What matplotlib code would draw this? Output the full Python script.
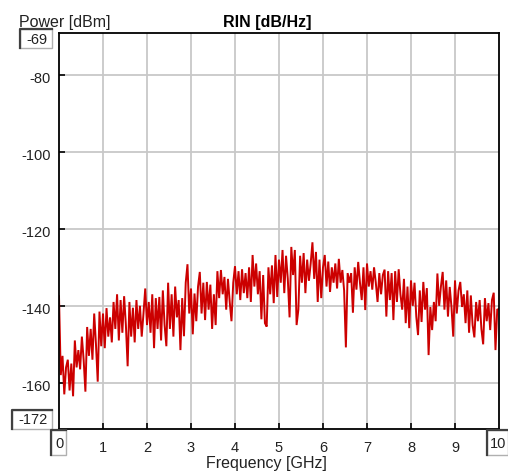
import numpy as np
import matplotlib
matplotlib.use("Agg")
import matplotlib.pyplot as plt
import matplotlib.transforms as mtransforms
from matplotlib.patches import Rectangle
from matplotlib.lines import Line2D

plt.rcParams['font.family'] = ['Liberation Sans', 'DejaVu Sans']
plt.rcParams['axes.unicode_minus'] = False

# frequency span of the sweep (GHz)
f_start = 0.0
f_stop = 10.0

# RIN trace, one value every 0.04 GHz
rin = [
    -137.5, -158, -153, -163, -156,
    -154, -162, -155, -163.5, -149,
    -156, -151.5, -156.5, -148, -154,
    -162.3, -145.5, -153, -146, -154,
    -142, -150, -159.7, -141.5, -150.5,
    -142, -151, -140.6, -148, -143,
    -149.5, -139, -146, -137, -149,
    -138.5, -147, -137.5, -145, -155.7,
    -139, -148, -140.5, -149.5, -138.5,
    -146, -140, -148, -142, -135.5,
    -145, -139, -147, -137, -151,
    -138, -146, -137.7, -149, -136,
    -145, -150.5, -134, -146, -137,
    -148, -135, -143, -138.5, -151.5,
    -138, -147.9, -134, -129.2, -142,
    -135.5, -147.4, -136.8, -144, -135,
    -131.2, -142, -134, -143.7, -133.8,
    -141, -134.5, -146, -137, -145,
    -131, -138, -130.7, -137, -132.5,
    -141, -133, -139, -144, -134,
    -129.7, -137, -131, -138.5, -130.5,
    -136.7, -131.5, -138, -130, -139,
    -126.8, -135, -129, -137, -131,
    -143.5, -132, -144.5, -145.4, -130,
    -137, -129.5, -139.3, -126.8, -137.7,
    -128, -134, -125.5, -136.7, -127,
    -133, -143, -124.7, -132, -125.5,
    -145, -141, -127, -134, -126.3,
    -136.7, -128, -133.5, -129, -123.5,
    -133, -126, -139, -128, -138,
    -130, -126.8, -135, -128.5, -136.4,
    -130, -134, -129, -135.5, -127.8,
    -134, -130.7, -136, -150.8, -131.5,
    -134, -131.5, -141.8, -130, -135.8,
    -128.6, -134, -138.5, -130, -141.1,
    -129, -135, -131, -135.8, -130,
    -134, -139, -131.5, -137, -132,
    -130.6, -142.8, -131, -138.5, -131.5,
    -143.7, -131, -139, -130.5, -137,
    -141, -133, -144.5, -135, -145.8,
    -133.4, -140, -134, -142.8, -147.6,
    -136, -144.2, -133.8, -141, -135.4,
    -152.8, -140.3, -146.3, -139, -144,
    -131.6, -140, -135, -131.2, -141,
    -133.4, -142.8, -135.1, -140.3, -148,
    -133.4, -142, -136, -133.8, -140.3,
    -137, -144.5, -136, -147, -137.3,
    -145, -148.2, -139, -144, -138.5,
    -146, -150, -138, -144, -139.3,
    -146.3, -138.5, -136.6, -151.5, -141,
    -140.8,
]
freq = np.linspace(f_start, f_stop, len(rin))

y_min, y_max = -172, -69
y_ticks = [-160, -140, -120, -100, -80]
x_ticks = [1, 2, 3, 4, 5, 6, 7, 8, 9]

W, H = 508, 475
fs = 11.5      # captions
fs_tick = 10.5  # numbers

fig = plt.figure(figsize=(W / 100, H / 100), dpi=100)
ax = fig.add_axes([59 / W, 46 / H, 440 / W, 396.5 / H])

ax.plot(freq, rin, color='#cc0000', lw=1.4, solid_joinstyle='miter')

ax.set_xlim(f_start, f_stop)
ax.set_ylim(y_min, y_max)
ax.set_xticks(x_ticks)
ax.set_yticks(y_ticks)
ax.grid(True, color='#c8c8c8', lw=1.3)
ax.set_axisbelow(True)
ax.tick_params(direction='in', length=4, width=1.2, colors='black',
               labelcolor='#222222', labelsize=fs_tick)
ax.tick_params(axis='y', pad=6)
ax.tick_params(axis='x', pad=9)
for s in ax.spines.values():
    s.set_linewidth(1.3)

# labels sit a little low on the original screen
shift = mtransforms.ScaledTranslation(0, -3 / 100, fig.dpi_scale_trans)
for lab in ax.get_yticklabels():
    lab.set_transform(lab.get_transform() + shift)


def px_box(x0, y0, x1, y1, txt):
    # little edit box, pixel coords from the top-left corner
    fx0, fx1 = x0 / W, x1 / W
    fy0, fy1 = 1 - y1 / H, 1 - y0 / H
    fig.patches.append(Rectangle((fx0, fy0), fx1 - fx0, fy1 - fy0,
                                 transform=fig.transFigure, fc='white',
                                 ec='#b0b0b0', lw=1))
    fig.lines.append(Line2D([fx0, fx0, fx1], [fy0, fy1, fy1],
                            transform=fig.transFigure, color='#404040', lw=1.6))
    fig.text((x0 + x1) / 2 / W + 1 / W, 1 - (y0 + y1) / 2 / H - 1 / H, txt,
             ha='center', va='center', fontsize=fs_tick, color='#222222')


px_box(20, 29, 52, 48, '-69')
px_box(12, 410, 52, 429, '-172')
px_box(51, 430, 66, 455, '0')
px_box(487, 430, 508, 455, '10')

fig.text(19 / W, 1 - 27 / H, 'Power [dBm]', fontsize=fs, va='baseline',
         color='#222222')
fig.text(267 / W, 1 - 27 / H, 'RIN [dB/Hz]', fontsize=fs,
         fontweight='bold', ha='center', va='baseline')
fig.text(266 / W, 1 - 468 / H, 'Frequency [GHz]', fontsize=fs,
         ha='center', va='baseline', color='#222222')

fig.savefig('out.png', dpi=100)
